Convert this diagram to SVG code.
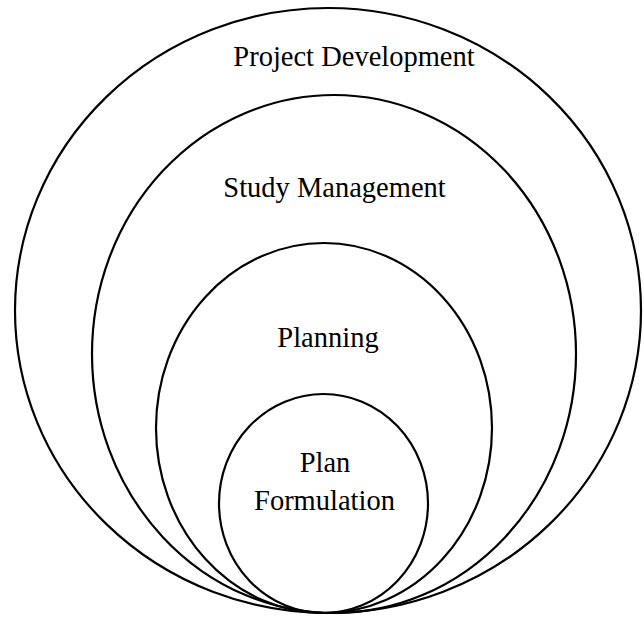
<svg xmlns="http://www.w3.org/2000/svg" width="644" height="617" viewBox="0 0 644 617">
<style>
.c{fill:none;stroke:#000;stroke-width:2.2}
.t{font-family:"Liberation Serif","Times New Roman",serif;font-size:28.5px;fill:#000;text-anchor:middle}
</style>
<rect width="644" height="617" fill="#fff"/>
<g id="project-development">
<ellipse class="c" cx="328" cy="310.5" rx="313" ry="302.5"/>
<text class="t" x="354" y="66">Project Development</text>
</g>
<g id="study-management">
<ellipse class="c" cx="334" cy="354" rx="242" ry="259"/>
<text class="t" x="334.5" y="197">Study Management</text>
</g>
<g id="planning">
<ellipse class="c" cx="324" cy="428" rx="168" ry="185"/>
<text class="t" x="328" y="347">Planning</text>
</g>
<g id="plan-formulation">
<ellipse class="c" cx="323.5" cy="503.5" rx="104.5" ry="109.5"/>
<text class="t" x="325" y="472">Plan</text>
<text class="t" x="324.5" y="510">Formulation</text>
</g>
</svg>
